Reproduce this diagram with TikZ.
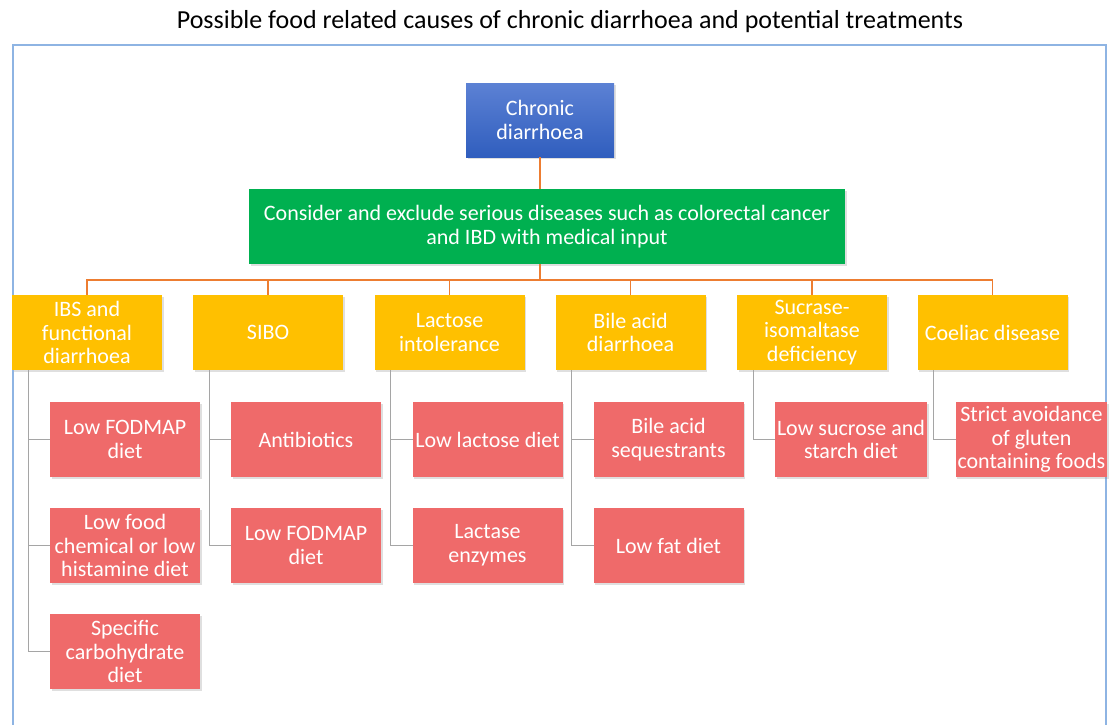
\documentclass[tikz,border=0pt]{standalone}
\usepackage{fontspec}
\setmainfont{Carlito}
\usepackage{xcolor}
\usetikzlibrary{positioning, shadows}
\definecolor{frameblue}{HTML}{8EB4E3}
\definecolor{rootblue1}{HTML}{5C81D4}
\definecolor{rootblue2}{HTML}{305EBE}
\definecolor{screengreen}{HTML}{00B050}
\definecolor{causeyellow}{HTML}{FFC000}
\definecolor{treatred}{HTML}{EF6A6A}
\definecolor{busorange}{HTML}{ED7D31}
\definecolor{treegray}{HTML}{A5A5A5}

\begin{document}
\begin{tikzpicture}[
    x=0.5pt, y=-0.5pt,
    node distance=15.5pt,
    boxbase/.style={rectangle, draw=none, text=white, align=center, inner sep=1pt, outer sep=0pt, font=\fontsize{11}{11.8}\selectfont, drop shadow={shadow xshift=0.8pt, shadow yshift=-1pt, opacity=0.25}},
    rootbox/.style={boxbase, top color=rootblue1, bottom color=rootblue2, minimum width=74pt, minimum height=37pt},
    screenbox/.style={boxbase, fill=screengreen, minimum width=298pt, minimum height=37.5pt},
    causebox/.style={boxbase, fill=causeyellow, minimum width=75pt, minimum height=37.5pt},
    treatbox/.style={boxbase, fill=treatred, minimum width=75pt, minimum height=37.5pt},
    busline/.style={draw=busorange, line width=0.8pt},
    treeline/.style={draw=treegray, line width=0.5pt}
]
    \useasboundingbox (0,0) rectangle (1109,724);
    \draw[frameblue, line width=0.8pt] (13,740) |- (1106,45) -- (1106,740);

    \node[font=\fontsize{13}{15}\selectfont] (title) at (570,22) {Possible food related causes of chronic diarrhoea and potential treatments};

    \node[rootbox] (root) at (540,120) {Chronic\\diarrhoea};
    \node[screenbox] (screen) at (547,226.5) {Consider and exclude serious diseases such as colorectal cancer\\and IBD with medical input};

    \node[causebox] (ibs) at (87,332.5) {IBS and\\functional\\diarrhoea};
    \node[causebox] (sibo) at (268,332.5) {SIBO};
    \node[causebox] (lac) at (449.5,332.5) {Lactose\\intolerance};
    \node[causebox] (bile) at (630.5,332.5) {Bile acid\\diarrhoea};
    \node[causebox] (suc) at (812,332.5) {Sucrase-\\isomaltase\\deficiency};
    \node[causebox] (coel) at (992.5,332.5) {Coeliac disease};

    \node[treatbox, below right=16pt and 19pt of ibs.south west] (ibs1) {Low FODMAP\\diet};
    \node[treatbox, below=of ibs1] (ibs2) {Low food\\chemical or low\\histamine diet};
    \node[treatbox, below=of ibs2] (ibs3) {Specific\\carbohydrate\\diet};
    \node[treatbox, below right=16pt and 19pt of sibo.south west] (sibo1) {Antibiotics};
    \node[treatbox, below=of sibo1] (sibo2) {Low FODMAP\\diet};
    \node[treatbox, below right=16pt and 19pt of lac.south west] (lac1) {Low lactose diet};
    \node[treatbox, below=of lac1] (lac2) {Lactase\\enzymes};
    \node[treatbox, below right=16pt and 19pt of bile.south west] (bile1) {Bile acid\\sequestrants};
    \node[treatbox, below=of bile1] (bile2) {Low fat diet};
    \node[treatbox, below right=16pt and 19pt of suc.south west] (suc1) {Low sucrose and\\starch diet};
    \node[treatbox, below right=16pt and 19pt of coel.south west] (coel1) {Strict avoidance\\of gluten\\containing foods};

    \coordinate (bus) at (540,280);
    \draw[busline] (root) -- (root.south |- screen.north);
    \draw[busline] (root.south |- screen.south) -- (bus);
    \foreach \c in {ibs,sibo,lac,bile,suc,coel}
        \draw[busline] (bus) -| (\c.north);

    \draw[treeline] ([xshift=8pt]ibs.south west) |- (ibs1.west);
    \draw[treeline] ([xshift=8pt]ibs.south west) |- (ibs2.west);
    \draw[treeline] ([xshift=8pt]ibs.south west) |- (ibs3.west);
    \draw[treeline] ([xshift=8pt]sibo.south west) |- (sibo1.west);
    \draw[treeline] ([xshift=8pt]sibo.south west) |- (sibo2.west);
    \draw[treeline] ([xshift=8pt]lac.south west) |- (lac1.west);
    \draw[treeline] ([xshift=8pt]lac.south west) |- (lac2.west);
    \draw[treeline] ([xshift=8pt]bile.south west) |- (bile1.west);
    \draw[treeline] ([xshift=8pt]bile.south west) |- (bile2.west);
    \draw[treeline] ([xshift=8pt]suc.south west) |- (suc1.west);
    \draw[treeline] ([xshift=8pt]coel.south west) |- (coel1.west);
\end{tikzpicture}
\end{document}
